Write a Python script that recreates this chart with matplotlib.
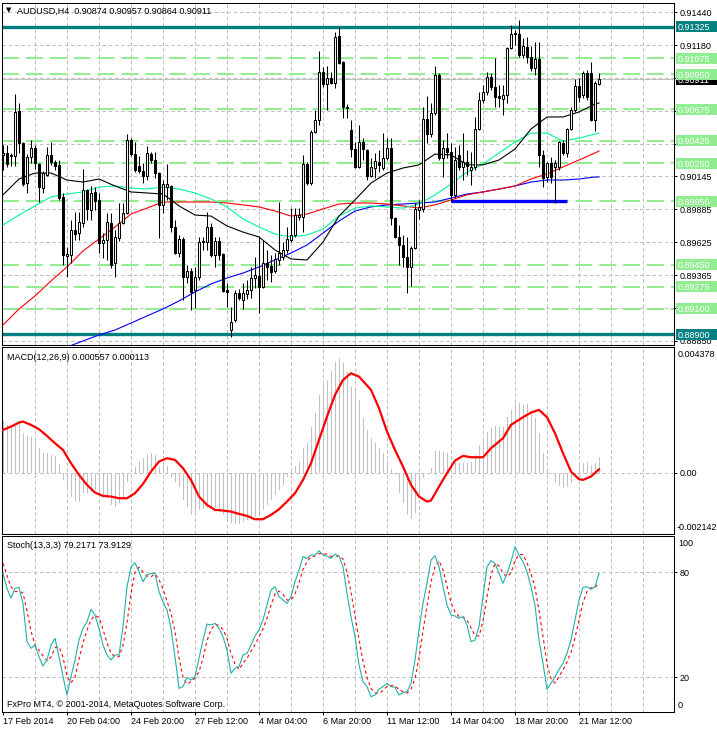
import numpy as np
import matplotlib
matplotlib.use("Agg")
import matplotlib.pyplot as plt
import matplotlib.transforms as mtransforms
from matplotlib.patches import Rectangle

# ---------------- DATA ----------------
symbol_header = "AUDUSD,H4  0.90874 0.90957 0.90864 0.90911"
tick_bars = [0, 16, 32, 48, 64, 80, 96, 112, 128, 144]
tick_labels = ["17 Feb 2014", "20 Feb 04:00", "24 Feb 20:00", "27 Feb 12:00", "4 Mar 04:00",
               "6 Mar 20:00", "11 Mar 12:00", "14 Mar 04:00", "18 Mar 20:00", "21 Mar 12:00"]

opens = [
    0.90314, 0.90329, 0.90314, 0.90306, 0.90660, 0.90407, 0.90092, 0.90298, 0.90368, 0.90242,
    0.90053, 0.90156, 0.90314, 0.90258, 0.90235, 0.89983, 0.89518, 0.89526, 0.89722, 0.89698,
    0.89777, 0.90038, 0.89880, 0.90022, 0.89959, 0.89619, 0.89643, 0.89777, 0.89462, 0.89659,
    0.89777, 0.89856, 0.90431, 0.90321, 0.90227, 0.90187, 0.90148, 0.90321, 0.90274, 0.90171,
    0.89920, 0.90061, 0.90069, 0.89746, 0.89541, 0.89651, 0.89352, 0.89399, 0.89250, 0.89352,
    0.89627, 0.89627, 0.89746, 0.89526, 0.89635, 0.89533, 0.89250, 0.88934, 0.89013, 0.89226,
    0.89171, 0.89218, 0.89250, 0.89344, 0.89360, 0.89273, 0.89462, 0.89439, 0.89399, 0.89486,
    0.89510, 0.89565, 0.89643, 0.89683, 0.89825, 0.89825, 0.90242, 0.90092, 0.90494, 0.90589,
    0.90967, 0.90872, 0.90920, 0.90880, 0.91251, 0.91046, 0.90692, 0.90510, 0.90360, 0.90219,
    0.90415, 0.90353, 0.90148, 0.90211, 0.90258, 0.90211, 0.90290, 0.90368, 0.89817, 0.89667,
    0.89604, 0.89510, 0.89431, 0.89580, 0.89880, 0.89888, 0.90597, 0.90478, 0.90644, 0.90943,
    0.90290, 0.90368, 0.90337, 0.89998, 0.90314, 0.90219, 0.90258, 0.90195, 0.90219, 0.90518,
    0.90747, 0.90809, 0.90928, 0.90849, 0.90778, 0.90755, 0.90786, 0.91156, 0.91275, 0.91267,
    0.91101, 0.91164, 0.91086, 0.90999, 0.91070, 0.90314, 0.90140, 0.90250, 0.90219, 0.90219,
    0.90407, 0.90329, 0.90518, 0.90668, 0.90857, 0.90786, 0.90959, 0.90959, 0.90589, 0.90874]
highs = [
    0.90392, 0.90392, 0.90329, 0.90793, 0.90723, 0.90415, 0.90321, 0.90431, 0.90392, 0.90250,
    0.90187, 0.90376, 0.90415, 0.90274, 0.90274, 0.90014, 0.89588, 0.89801, 0.89864, 0.89864,
    0.90203, 0.90045, 0.90069, 0.90061, 0.90014, 0.89698, 0.89856, 0.89856, 0.89722, 0.89935,
    0.89935, 0.90478, 0.90447, 0.90415, 0.90306, 0.90250, 0.90384, 0.90337, 0.90337, 0.90179,
    0.90116, 0.90242, 0.90077, 0.89801, 0.89683, 0.89667, 0.89447, 0.89423, 0.89431, 0.89667,
    0.89667, 0.89864, 0.89777, 0.89667, 0.89667, 0.89541, 0.89304, 0.89116, 0.89250, 0.89257,
    0.89304, 0.89328, 0.89431, 0.89510, 0.89675, 0.89643, 0.89565, 0.89526, 0.89541, 0.89943,
    0.89627, 0.89746, 0.89895, 0.89895, 0.89895, 0.90314, 0.90258, 0.90510, 0.90668, 0.91133,
    0.91007, 0.91015, 0.90967, 0.91282, 0.91322, 0.91054, 0.90715, 0.90589, 0.90415, 0.90550,
    0.90447, 0.90360, 0.90290, 0.90329, 0.90353, 0.90486, 0.90447, 0.90447, 0.89825, 0.89762,
    0.89683, 0.89667, 0.89596, 0.89935, 0.89959, 0.90692, 0.90778, 0.90723, 0.91015, 0.90959,
    0.90431, 0.90486, 0.90407, 0.90376, 0.90392, 0.90486, 0.90353, 0.90337, 0.90613, 0.90809,
    0.90864, 0.90967, 0.90959, 0.91077, 0.90864, 0.90864, 0.91164, 0.91338, 0.91298, 0.91377,
    0.91235, 0.91243, 0.91172, 0.91203, 0.91203, 0.90353, 0.90258, 0.90298, 0.90274, 0.90423,
    0.90431, 0.90526, 0.90692, 0.90912, 0.90920, 0.90975, 0.90983, 0.91046, 0.90896, 0.90957]
lows = [
    0.90195, 0.90219, 0.90227, 0.90227, 0.90329, 0.90069, 0.90014, 0.90250, 0.90203, 0.89943,
    0.90014, 0.90148, 0.90235, 0.90195, 0.89959, 0.89447, 0.89352, 0.89462, 0.89643, 0.89643,
    0.89746, 0.89801, 0.89801, 0.89880, 0.89541, 0.89502, 0.89486, 0.89423, 0.89352, 0.89635,
    0.89769, 0.89848, 0.90306, 0.90179, 0.90171, 0.90092, 0.90116, 0.90250, 0.90132, 0.89659,
    0.89856, 0.89959, 0.89706, 0.89533, 0.89510, 0.89171, 0.89304, 0.89092, 0.89108, 0.89328,
    0.89565, 0.89565, 0.89510, 0.89431, 0.89486, 0.89234, 0.89116, 0.88879, 0.88997, 0.89171,
    0.89100, 0.89179, 0.89187, 0.89265, 0.89068, 0.89265, 0.89328, 0.89312, 0.89383, 0.89447,
    0.89486, 0.89541, 0.89627, 0.89667, 0.89801, 0.89706, 0.90077, 0.90077, 0.90486, 0.90550,
    0.90849, 0.90668, 0.90872, 0.90841, 0.91030, 0.90605, 0.90605, 0.90298, 0.90211, 0.90211,
    0.90274, 0.90116, 0.90140, 0.90132, 0.90179, 0.90195, 0.90274, 0.89762, 0.89659, 0.89447,
    0.89431, 0.89226, 0.89281, 0.89572, 0.89809, 0.89864, 0.90407, 0.90455, 0.90629, 0.90274,
    0.90140, 0.90290, 0.89943, 0.89975, 0.90195, 0.90116, 0.90156, 0.90077, 0.90195, 0.90510,
    0.90723, 0.90786, 0.90825, 0.90692, 0.90692, 0.90629, 0.90723, 0.91148, 0.91180, 0.91086,
    0.91077, 0.91038, 0.90975, 0.90943, 0.90219, 0.90061, 0.90100, 0.90092, 0.89935, 0.90195,
    0.90314, 0.90298, 0.90510, 0.90652, 0.90731, 0.90762, 0.90747, 0.90581, 0.90503, 0.90864]
closes = [
    0.90329, 0.90242, 0.90306, 0.90652, 0.90407, 0.90084, 0.90298, 0.90368, 0.90250, 0.90061,
    0.90171, 0.90314, 0.90258, 0.90227, 0.89975, 0.89526, 0.89533, 0.89722, 0.89690, 0.89785,
    0.90038, 0.89888, 0.90014, 0.89951, 0.89619, 0.89643, 0.89785, 0.89447, 0.89667, 0.89777,
    0.89856, 0.90431, 0.90321, 0.90195, 0.90187, 0.90148, 0.90329, 0.90274, 0.90171, 0.89920,
    0.90084, 0.90084, 0.89746, 0.89541, 0.89651, 0.89352, 0.89399, 0.89234, 0.89352, 0.89627,
    0.89635, 0.89746, 0.89526, 0.89635, 0.89526, 0.89242, 0.89234, 0.88997, 0.89226, 0.89187,
    0.89226, 0.89250, 0.89344, 0.89368, 0.89273, 0.89462, 0.89431, 0.89391, 0.89494, 0.89541,
    0.89565, 0.89651, 0.89683, 0.89840, 0.89840, 0.90242, 0.90092, 0.90494, 0.90589, 0.90967,
    0.90872, 0.90920, 0.90880, 0.91243, 0.91038, 0.90692, 0.90684, 0.90360, 0.90219, 0.90415,
    0.90360, 0.90148, 0.90219, 0.90266, 0.90235, 0.90290, 0.90368, 0.89817, 0.89667, 0.89604,
    0.89510, 0.89431, 0.89580, 0.89888, 0.89904, 0.90597, 0.90478, 0.90644, 0.90943, 0.90290,
    0.90368, 0.90337, 0.89998, 0.90274, 0.90219, 0.90258, 0.90227, 0.90219, 0.90518, 0.90747,
    0.90809, 0.90928, 0.90849, 0.90770, 0.90762, 0.90786, 0.91156, 0.91267, 0.91267, 0.91101,
    0.91172, 0.91086, 0.90999, 0.91070, 0.90314, 0.90132, 0.90250, 0.90140, 0.90250, 0.90415,
    0.90329, 0.90518, 0.90668, 0.90857, 0.90770, 0.90959, 0.90770, 0.90589, 0.90880, 0.90911]

ma_bars = list(range(0, 149, 4)) + [149]
ma_black = [0.89999, 0.90124, 0.90171, 0.90171, 0.90116, 0.90100, 0.90124, 0.90069, 0.90022, 0.90014,
            0.90006, 0.89912, 0.89840, 0.89832, 0.89754, 0.89706, 0.89667, 0.89565, 0.89494, 0.89486,
            0.89627, 0.89832, 0.89959, 0.90092, 0.90171, 0.90211, 0.90235, 0.90321, 0.90314, 0.90235,
            0.90235, 0.90274, 0.90360, 0.90518, 0.90613, 0.90613, 0.90652, 0.90715, 0.90723]
ma_green = [0.89762, 0.89840, 0.89912, 0.89983, 0.90006, 0.90022, 0.90061, 0.90069, 0.90053, 0.90045,
            0.90061, 0.90045, 0.90014, 0.89967, 0.89904, 0.89809, 0.89746, 0.89690, 0.89667, 0.89683,
            0.89730, 0.89832, 0.89895, 0.89912, 0.89904, 0.89895, 0.89927, 0.89999, 0.90084, 0.90179,
            0.90242, 0.90329, 0.90415, 0.90486, 0.90486, 0.90423, 0.90447, 0.90478, 0.90486]
ma_red = [0.88974, 0.89100, 0.89202, 0.89321, 0.89431, 0.89557, 0.89651, 0.89746, 0.89848, 0.89895,
          0.89943, 0.89943, 0.89943, 0.89943, 0.89935, 0.89920, 0.89904, 0.89872, 0.89832, 0.89848,
          0.89888, 0.89927, 0.89935, 0.89935, 0.89927, 0.89912, 0.89895, 0.89920, 0.89959, 0.89999,
          0.90022, 0.90045, 0.90069, 0.90124, 0.90164, 0.90219, 0.90274, 0.90329, 0.90345]
ma_blue_bars = list(range(16, 149, 4)) + [149]
ma_blue = [0.88800, 0.88848, 0.88895, 0.88934, 0.88989, 0.89045, 0.89100, 0.89163, 0.89234, 0.89297,
           0.89344, 0.89383, 0.89431, 0.89486, 0.89541, 0.89604, 0.89698, 0.89793, 0.89872, 0.89904,
           0.89920, 0.89927, 0.89935, 0.89943, 0.89974, 0.90006, 0.90022, 0.90045, 0.90069, 0.90100,
           0.90116, 0.90116, 0.90124, 0.90140, 0.90140]

grid_prices = [0.91440, 0.91180, 0.90920, 0.90660, 0.90400, 0.90145, 0.89885, 0.89625, 0.89365, 0.89105, 0.88850]
grid_labels = ["0.91440", "0.91180", "", "", "", "0.90145", "0.89885", "0.89625", "0.89365", "", "0.88850"]
teal_levels = [0.91325, 0.88900]
green_levels = [0.91075, 0.90950, 0.90675, 0.90425, 0.90250, 0.89950, 0.89450, 0.89275, 0.89100]
bid_price = 0.90911
support_line = (112, 141, 0.89950)

macd_label = "MACD(12,26,9) 0.000557 0.000113"
macd_main = [
    0.001813, 0.001662, 0.001604, 0.001743, 0.001720, 0.001394, 0.001278, 0.001232, 0.001162, 0.000848,
    0.000697, 0.000674, 0.000616, 0.000581, 0.000302, -0.000256, -0.000546, -0.000837, -0.000976, -0.001011,
    -0.000720, -0.000720, -0.000662, -0.000604, -0.000779, -0.000895, -0.000895, -0.001127, -0.001185, -0.001069,
    -0.000837, -0.000314, -0.000023, 0.000209, 0.000383, 0.000500, 0.000651, 0.000697, 0.000616, 0.000209,
    0.000267, 0.000232, -0.000139, -0.000314, -0.000488, -0.000953, -0.001185, -0.001476, -0.001476, -0.001301,
    -0.001278, -0.001243, -0.001185, -0.001243, -0.001301, -0.001476, -0.001650, -0.001743, -0.001789, -0.001789,
    -0.001708, -0.001650, -0.001650, -0.001534, -0.001476, -0.001301, -0.001127, -0.000953, -0.000779, -0.000604,
    -0.000430, -0.000139, 0.000116, 0.000232, 0.000383, 0.000848, 0.001046, 0.001604, 0.002068, 0.002707,
    0.003056, 0.003230, 0.003556, 0.003869, 0.003986, 0.003811, 0.003521, 0.002998, 0.002940, 0.002533,
    0.001894, 0.001487, 0.001197, 0.001023, 0.000848, 0.000674, 0.000418, 0.000116, -0.000081, -0.000720,
    -0.001069, -0.001476, -0.001627, -0.001418, -0.000744, -0.000198, -0.000046, 0.000151, 0.000767, 0.000767,
    0.000732, 0.000697, 0.000383, 0.000383, 0.000349, 0.000325, 0.000349, 0.000383, 0.000616, 0.000964,
    0.001139, 0.001429, 0.001545, 0.001627, 0.001604, 0.001604, 0.001929, 0.002185, 0.002394, 0.002417,
    0.002359, 0.002394, 0.002092, 0.001894, 0.001394, 0.000697, 0.000093, -0.000046, -0.000314, -0.000465,
    -0.000546, -0.000488, -0.000372, -0.000046, 0.000302, 0.000349, 0.000383, 0.000267, 0.000349, 0.000557]
signal_bars = [0, 2, 4, 5, 7, 9, 11, 13, 15, 17, 19, 21, 23, 25, 27, 29, 31, 33, 35, 37,
               39, 41, 43, 45, 47, 49, 51, 53, 55, 57, 59, 61, 63, 65, 67, 69, 71, 73, 75, 77,
               79, 81, 83, 85, 87, 89, 92, 94, 96, 98, 100, 102, 104, 106, 107, 109, 111, 113, 115, 117,
               120, 122, 125, 127, 130, 132, 134, 136, 138, 140, 142, 144, 145, 147, 149]
macd_signal = [0.001487, 0.001604, 0.001743, 0.001778, 0.001662, 0.001511, 0.001278, 0.001023, 0.000790, 0.000325,
               -0.000081, -0.000430, -0.000697, -0.000813, -0.000837, -0.000895, -0.000895, -0.000720, -0.000395, 0.000035,
               0.000383, 0.000500, 0.000442, 0.000151, -0.000256, -0.000837, -0.001127, -0.001301, -0.001325, -0.001360,
               -0.001441, -0.001511, -0.001627, -0.001627, -0.001476, -0.001278, -0.001011, -0.000720, -0.000256, 0.000325,
               0.001139, 0.001952, 0.002707, 0.003230, 0.003463, 0.003346, 0.002882, 0.002243, 0.001429, 0.000790,
               0.000209, -0.000430, -0.000837, -0.001011, -0.000976, -0.000488, -0.000023, 0.000418, 0.000581, 0.000534,
               0.000534, 0.000848, 0.001197, 0.001662, 0.001929, 0.002092, 0.002185, 0.001929, 0.001371, 0.000674,
               0.000035, -0.000232, -0.000256, -0.000139, 0.000113]

stoch_label = "Stoch(13,3,3) 79.2171 73.9129"
stoch_k = [79.2, 70.7, 65.0, 70.7, 71.2, 62.0, 40.2, 36.4, 38.3, 31.6,
           26.3, 29.7, 38.3, 42.1, 31.6, 20.2, 9.7, 20.2, 29.7, 41.1,
           47.8, 51.6, 58.7, 55.4, 47.8, 38.3, 32.6, 29.7, 32.6, 32.6,
           48.8, 71.6, 82.7, 85.3, 80.2, 74.5, 78.3, 79.2, 79.2, 68.8,
           63.0, 58.3, 47.8, 31.6, 13.5, 14.5, 19.8, 18.3, 20.2, 30.7,
           41.1, 50.3, 49.7, 50.7, 47.8, 43.0, 35.4, 22.1, 25.0, 25.9,
           32.6, 33.5, 38.3, 43.4, 46.9, 52.6, 61.1, 69.7, 71.6, 65.9,
           64.0, 62.1, 65.9, 74.5, 81.1, 88.8, 87.8, 89.7, 89.7, 92.2,
           89.7, 89.1, 87.8, 90.3, 89.1, 83.0, 67.8, 54.5, 43.0, 26.9,
           17.3, 14.5, 8.8, 9.7, 13.0, 14.5, 16.4, 14.5, 14.1, 9.7,
           11.0, 11.6, 16.4, 29.7, 46.9, 62.1, 73.5, 86.9, 89.3, 83.0,
           71.6, 61.1, 55.4, 54.9, 53.5, 54.5, 49.7, 40.2, 41.1, 48.8,
           65.9, 83.0, 86.5, 85.0, 79.2, 73.5, 79.2, 85.9, 94.5, 89.7,
           85.9, 80.2, 71.6, 61.1, 41.1, 27.8, 13.0, 16.4, 20.2, 24.4,
           27.8, 33.5, 41.1, 52.6, 64.0, 71.2, 71.6, 70.1, 71.6, 79.2]
stoch_d = [85.0, 78.0, 71.6, 68.8, 69.0, 68.0, 57.8, 46.2, 38.3, 35.4,
           32.1, 29.2, 31.4, 36.7, 37.3, 31.3, 20.5, 16.7, 19.9, 30.3,
           39.5, 46.8, 52.7, 55.2, 54.0, 47.2, 39.6, 33.5, 31.6, 31.6,
           38.0, 51.0, 67.7, 79.9, 82.7, 80.0, 77.7, 77.3, 78.9, 75.7,
           70.3, 63.4, 56.4, 45.9, 31.0, 19.9, 15.9, 17.5, 19.4, 23.1,
           30.7, 40.7, 47.0, 50.2, 49.4, 47.2, 42.1, 33.5, 27.5, 24.3,
           27.8, 30.7, 34.8, 38.4, 42.9, 47.6, 53.5, 61.1, 67.5, 69.1,
           67.2, 64.0, 64.0, 67.5, 73.8, 81.5, 85.9, 88.8, 89.1, 90.5,
           90.5, 90.3, 88.9, 89.1, 89.1, 87.5, 80.0, 68.4, 55.1, 41.5,
           29.1, 19.6, 13.5, 11.0, 10.5, 12.4, 14.6, 15.1, 15.0, 12.8,
           11.6, 10.8, 13.0, 19.2, 31.0, 46.2, 60.8, 74.2, 83.2, 86.4,
           81.3, 71.9, 62.7, 57.1, 54.6, 54.3, 52.6, 48.1, 43.7, 43.4,
           51.9, 65.9, 78.5, 84.8, 83.6, 79.2, 77.3, 79.5, 86.5, 90.0,
           90.0, 85.3, 79.2, 71.0, 57.9, 43.3, 27.3, 19.1, 16.5, 20.3,
           24.1, 28.6, 34.1, 42.4, 52.6, 62.6, 68.9, 71.0, 71.1, 73.9]
stoch_levels = [20, 80]
copyright_text = "FxPro MT4, \u00a9 2001-2014, MetaQuotes Software Corp."

# ---------------- STYLE / LAYOUT ----------------
plt.rcParams['font.family'] = ['Liberation Sans', 'DejaVu Sans']
plt.rcParams['lines.scale_dashes'] = False
plt.rcParams['axes.linewidth'] = 0.75

W, H = 717, 730
FS = 6.5
GRID = '#C0C0C0'
grid_dash = (0, (2.5, 2.0))
XMIN, XMAX = -0.25, 167.75

fig = plt.figure(figsize=(W / 100, H / 100), dpi=100, facecolor='white')


def add_px_axes(x0, y0, x1, y1):
    return fig.add_axes([x0 / W, 1 - y1 / H, (x1 - x0) / W, (y1 - y0) / H])


def ftext(x, y, s, **kw):
    kw.setdefault('fontsize', FS)
    fig.text(x / W, 1 - y / H, s, va='center', ha='left', **kw)


ax1 = add_px_axes(2, 3, 674, 345)
ax2 = add_px_axes(2, 347, 674, 534)
ax3 = add_px_axes(2, 536, 674, 712)

for ax in (ax1, ax2, ax3):
    ax.set_facecolor('white')
    ax.set_xlim(XMIN, XMAX)
    for s in ax.spines.values():
        s.set_color('black')
        s.set_linewidth(0.75)
    for k in range(8, 161, 8):
        ax.axvline(k, color=GRID, lw=0.75, ls=grid_dash, zorder=1)
    ax.yaxis.tick_right()
    ax.tick_params(axis='both', which='both', direction='out', length=2.2, width=0.7,
                   labelsize=FS, colors='black', pad=1.5)
    ax.tick_params(axis='y', left=False, labelleft=False)

ax1.set_xticks([])
ax2.set_xticks([])

# ---------------- MAIN PANEL ----------------
ax1.set_ylim(0.88816, 0.91511)
for g in grid_prices:
    ax1.axhline(g, color=GRID, lw=0.75, ls=grid_dash, zorder=1)
ax1.set_yticks(grid_prices)
ax1.set_yticklabels(grid_labels)

ax1.axhline(bid_price, color=GRID, lw=0.8, zorder=1.5)
for lv in green_levels:
    ax1.axhline(lv, color='#90EE90', lw=1.4, ls=(0, (12.2, 5.0)), zorder=2)
for lv in teal_levels:
    ax1.axhline(lv, color='#008080', lw=2.4, zorder=2.2)

ax1.plot(ma_blue_bars, ma_blue, color='#0000FF', lw=0.8, zorder=3)
ax1.plot(ma_bars, ma_red, color='#FF0000', lw=0.8, zorder=3)
ax1.plot(ma_bars, ma_green, color='#00FA9A', lw=0.8, zorder=3)
ax1.plot(ma_bars, ma_black, color='black', lw=0.8, zorder=3)

s0, s1, sp = support_line
ax1.plot([s0, s1], [sp, sp], color='#0000FF', lw=2.4, solid_capstyle='butt', zorder=3.5)

o = np.array(opens)
c = np.array(closes)
h = np.array(highs)
l = np.array(lows)
idx = np.arange(len(c))
up = c >= o
ax1.vlines(idx, l, h, color='black', lw=0.75, zorder=4)
bot = np.minimum(o, c)
hgt = np.abs(c - o)
ax1.bar(idx[up], hgt[up], bottom=bot[up], width=0.55, color='white', edgecolor='black',
        linewidth=0.75, zorder=5)
ax1.bar(idx[~up], hgt[~up], bottom=bot[~up], width=0.55, color='black', edgecolor='black',
        linewidth=0.75, zorder=5)


def price_box(ax, val, label, fc, z, panel_px=342):
    trans = mtransforms.blended_transform_factory(ax.transAxes, ax.transData)
    ylo, yhi = ax.get_ylim()
    per_px = (yhi - ylo) / panel_px
    x0 = (676 - 2) / 672
    w = (717 - 676) / 672
    ax.add_patch(Rectangle((x0, val - 5.5 * per_px), w, 11 * per_px, transform=trans,
                           clip_on=False, fc=fc, ec='none', zorder=z))
    ax.text((678 - 2) / 672, val, label, transform=trans, clip_on=False, color='white',
            fontsize=FS, va='center_baseline', ha='left', zorder=z + 0.5)


price_box(ax1, bid_price, f"{bid_price:.5f}", 'black', 20)
for lv in green_levels:
    price_box(ax1, lv, f"{lv:.5f}", '#90EE90', 22)
for lv in teal_levels:
    price_box(ax1, lv, f"{lv:.5f}", '#008080', 22)

ftext(6, 10.5, "\u25BC", fontsize=5, family=['DejaVu Sans'])
ftext(17, 11, symbol_header)

# ---------------- MACD PANEL ----------------
ax2.set_ylim(-0.002142, 0.004378)
ax2.axhline(0, color=GRID, lw=0.75, ls=grid_dash, zorder=1)
ax2.bar(idx, macd_main, width=0.25, color='#C0C0C0', linewidth=0, zorder=2)
ax2.plot(signal_bars, macd_signal, color='#FF0000', lw=1.6, zorder=3)
ax2.set_yticks([0.0])
ax2.set_yticklabels(["0.00"])
ftext(7, 357, macd_label)
ftext(678, 354.5, "0.004378")
ftext(677, 527.5, "-0.002142")

# ---------------- STOCH PANEL ----------------
ax3.set_ylim(0, 100.6)
for lv in stoch_levels:
    ax3.axhline(lv, color=GRID, lw=0.75, ls=grid_dash, zorder=1)
ax3.plot(idx, stoch_d, color='#FF0000', lw=0.8, ls=(0, (2.2, 2.2)), zorder=3)
ax3.plot(idx, stoch_k, color='#20B2AA', lw=0.8, zorder=4)
ax3.set_yticks(stoch_levels)
ax3.set_yticklabels([str(v) for v in stoch_levels])
ftext(7, 545.5, stoch_label)
ftext(7, 704.5, copyright_text)
ftext(678, 543.5, "100")
ftext(678, 705, "0")

ax3.set_xticks(tick_bars)
ax3.set_xticklabels(tick_labels)
for t in ax3.get_xticklabels():
    t.set_ha('left')
ax3.tick_params(axis='x', length=2.2, pad=1.5)

fig.savefig("out.png", dpi=100, facecolor='white')
